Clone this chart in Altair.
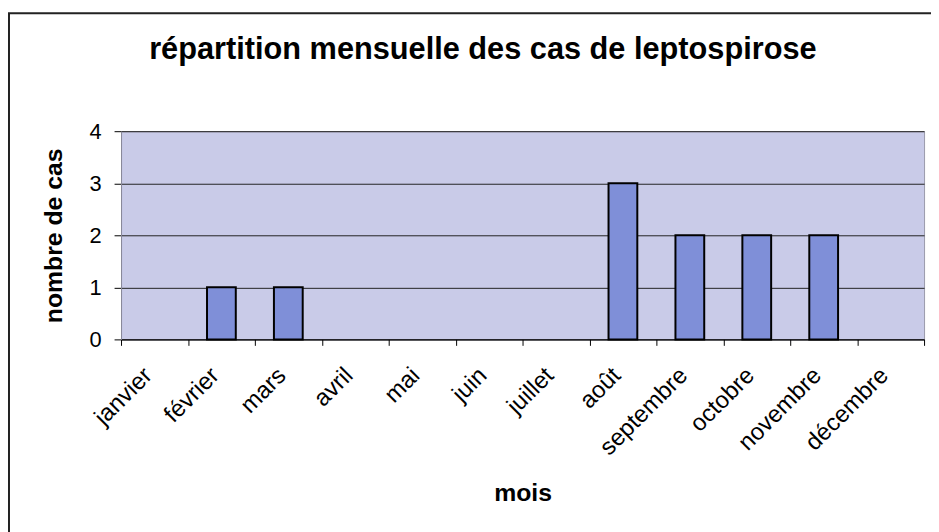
import altair as alt
import pandas as pd

months = ["janvier", "février", "mars", "avril", "mai", "juin", "juillet",
          "août", "septembre", "octobre", "novembre", "décembre"]
cases = [0, 1, 1, 0, 0, 0, 0, 3, 2, 2, 2, 0]
y_ticks = [0, 1, 2, 3, 4]

df = pd.DataFrame({"mois": months, "cas": cases})
FONT = "Liberation Sans"

x_enc = alt.X(
    "mois:N", sort=months,
    scale=alt.Scale(domain=months, paddingInner=0, paddingOuter=0),
    axis=alt.Axis(
        title="mois", titleFont=FONT, titleFontSize=25, titleFontWeight="bold",
        titleColor="black", titleX=405, titleY=162, titleAlign="center",
        titleBaseline="alphabetic",
        labelFont=FONT, labelFontSize=24, labelColor="black",
        labelAngle=-45, labelAlign="right", labelBaseline="top",
        labelOffset=-15, labelPadding=18,
        tickBand="extent", tickSize=6, tickColor="black",
        domainColor="black", domainWidth=1, grid=False,
    ),
)

bars = alt.Chart(df).transform_filter("datum.cas > 0").mark_bar(
    width=alt.RelativeBandSize(0.43), color="#7F8FD8",
    stroke="black", strokeWidth=2,
).encode(
    x=x_enc,
    y=alt.Y(
        "cas:Q", scale=alt.Scale(domain=[0, 4], nice=False),
        axis=alt.Axis(
            title="nombre de cas", titleFont=FONT, titleFontSize=25,
            titleFontWeight="bold", titleColor="black",
            titleX=-60, titleY=105, titleAngle=-90, titleAlign="center",
            titleBaseline="alphabetic",
            values=y_ticks, format="d",
            labelFont=FONT, labelFontSize=22, labelColor="black",
            labelPadding=13, tickSize=7, tickColor="black",
            domainColor="#8a8a9a", gridColor="#222222", gridWidth=1,
        ),
    ),
)

frame = alt.Chart(alt.Data(values=[{}])).mark_rect(
    fill="transparent", stroke="#222222", strokeWidth=2,
).encode(
    x=alt.value(-113), x2=alt.value(830),
    y=alt.value(-119), y2=alt.value(420),
)

chart = alt.layer(frame, bars).properties(
    width=810, height=210,
    autosize=alt.AutoSizeParams(type="none"),
    padding={"left": 114, "top": 122, "right": 7, "bottom": 192},
    background="white",
    title=alt.TitleParams(
        "répartition mensuelle des cas de leptospirose",
        font=FONT, fontSize=31, fontWeight="bold", color="black",
        anchor="middle", frame="group", dx=-40, offset=-78,
        baseline="alphabetic",
    ),
).configure_view(
    fill="#C9CBE8", stroke="#9a9aaa",
)

chart.save("out.html", embed_options={"renderer": "svg", "actions": False})
